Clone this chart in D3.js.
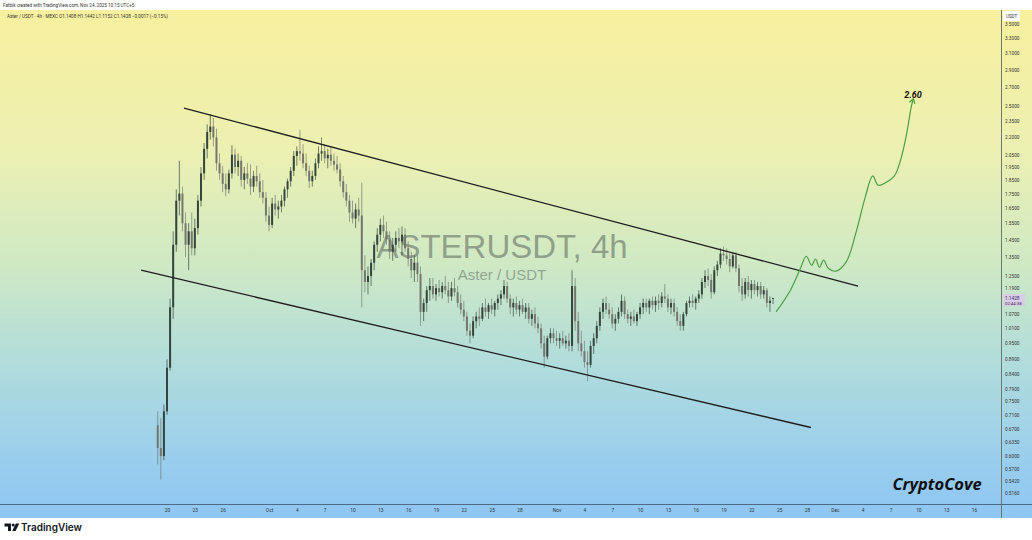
<!DOCTYPE html>
<html><head><meta charset="utf-8">
<script src="https://cdn.jsdelivr.net/npm/d3@7"></script>
<style>html,body{margin:0;padding:0;background:#fff;overflow:hidden}svg{display:block;font-family:Roboto,"Liberation Sans",sans-serif}</style>
</head><body><svg id="c" width="1032" height="540"></svg>
<script>
// ---- data (8h candles) ----
const candleStart = "2025-09-19T00:00:00Z";
const candleHours = 8;
const opens = [
0.68,0.62,0.60,0.72,0.86,1.10,1.42,1.70,1.75,1.55,
1.42,1.50,1.40,1.52,1.70,1.90,2.10,2.25,2.30,2.20,
1.98,1.90,1.82,1.78,1.90,2.05,1.95,2.00,1.85,1.90,
1.86,1.80,1.88,1.84,1.76,1.72,1.60,1.54,1.68,1.64,
1.66,1.70,1.78,1.84,1.92,2.04,2.08,2.06,1.98,1.92,
1.84,1.88,1.98,2.06,2.08,2.02,2.05,2.00,1.97,1.93,
1.84,1.76,1.70,1.62,1.58,1.64,1.60,1.28,1.22,1.25,
1.32,1.42,1.48,1.54,1.50,1.45,1.38,1.42,1.46,1.44,
1.48,1.40,1.34,1.28,1.32,1.26,1.08,1.12,1.18,1.20,
1.16,1.19,1.17,1.20,1.18,1.15,1.19,1.17,1.12,1.09,
1.06,1.00,0.98,1.04,1.06,1.05,1.10,1.08,1.11,1.09,
1.12,1.14,1.16,1.20,1.14,1.10,1.12,1.09,1.11,1.08,
1.10,1.05,1.07,1.03,1.01,0.95,0.90,0.97,0.99,0.97,
0.96,0.97,0.95,0.96,0.94,1.20,1.04,0.95,0.92,0.88,
0.87,0.94,0.97,1.02,1.08,1.12,1.09,1.07,1.03,1.05,
1.08,1.13,1.07,1.05,1.06,1.04,1.07,1.10,1.12,1.10,
1.13,1.11,1.13,1.12,1.15,1.14,1.10,1.12,1.08,1.04,
1.02,1.07,1.12,1.13,1.12,1.14,1.16,1.22,1.25,1.23,
1.17,1.28,1.31,1.37,1.36,1.34,1.30,1.36,1.29,1.20,
1.16,1.22,1.18,1.21,1.18,1.20,1.16,1.18,1.12,1.1408];
const highs = [
0.72,0.70,0.74,0.89,1.14,1.50,1.78,2.00,1.80,1.62,
1.55,1.62,1.58,1.74,1.95,2.15,2.32,2.42,2.38,2.28,
2.06,1.96,1.90,1.93,2.13,2.10,2.06,2.04,1.95,1.98,
1.97,1.92,1.96,1.90,1.85,1.76,1.66,1.72,1.74,1.70,
1.74,1.80,1.86,1.95,2.08,2.12,2.27,2.14,2.06,1.96,
1.92,2.02,2.12,2.20,2.14,2.10,2.12,2.06,2.04,1.98,
1.88,1.82,1.74,1.70,1.68,1.72,1.83,1.36,1.30,1.34,
1.44,1.52,1.58,1.60,1.56,1.50,1.46,1.50,1.52,1.53,
1.52,1.44,1.38,1.36,1.36,1.30,1.14,1.20,1.24,1.24,
1.21,1.23,1.22,1.25,1.22,1.22,1.24,1.20,1.16,1.13,
1.08,1.03,1.06,1.08,1.10,1.12,1.14,1.12,1.14,1.13,
1.16,1.18,1.23,1.22,1.16,1.14,1.15,1.13,1.14,1.12,
1.12,1.09,1.10,1.06,1.03,0.98,0.98,1.01,1.01,1.00,
0.99,1.00,0.98,0.99,1.28,1.24,1.08,1.00,0.96,0.92,
0.96,0.99,1.04,1.10,1.14,1.15,1.12,1.10,1.07,1.10,
1.16,1.15,1.09,1.08,1.09,1.08,1.12,1.14,1.14,1.14,
1.15,1.15,1.16,1.17,1.21,1.16,1.14,1.14,1.10,1.07,
1.08,1.13,1.15,1.16,1.15,1.18,1.24,1.28,1.29,1.26,
1.30,1.33,1.40,1.41,1.40,1.37,1.38,1.38,1.31,1.24,
1.24,1.25,1.23,1.23,1.22,1.22,1.20,1.19,1.15,1.1442];
const lows = [
0.58,0.545,0.59,0.71,0.85,1.05,1.38,1.60,1.50,1.35,
1.28,1.36,1.36,1.48,1.66,1.85,2.02,2.18,2.12,1.92,
1.85,1.76,1.73,1.75,1.86,1.90,1.88,1.80,1.78,1.82,
1.74,1.76,1.80,1.72,1.68,1.56,1.50,1.52,1.60,1.58,
1.62,1.66,1.72,1.80,1.88,1.96,2.00,1.94,1.88,1.79,
1.80,1.85,1.94,2.00,1.98,1.94,1.96,1.92,1.90,1.80,
1.72,1.66,1.56,1.55,1.52,1.56,1.10,1.17,1.16,1.20,
1.28,1.38,1.44,1.46,1.42,1.34,1.33,1.38,1.40,1.36,
1.38,1.30,1.24,1.22,1.22,1.02,1.04,1.08,1.13,1.14,
1.13,1.15,1.14,1.16,1.12,1.13,1.15,1.10,1.07,1.04,
0.98,0.95,0.97,1.01,1.02,1.04,1.06,1.05,1.07,1.06,
1.09,1.11,1.14,1.12,1.07,1.06,1.07,1.06,1.07,1.05,
1.03,1.02,1.01,0.99,0.93,0.86,0.89,0.95,0.95,0.94,
0.93,0.94,0.93,0.92,0.92,1.00,0.92,0.90,0.86,0.815,
0.86,0.91,0.95,1.00,1.05,1.07,1.05,1.01,1.00,1.03,
1.06,1.05,1.03,1.02,1.03,1.02,1.05,1.07,1.08,1.07,
1.09,1.08,1.09,1.10,1.12,1.08,1.07,1.06,1.02,1.00,
1.00,1.06,1.10,1.10,1.09,1.12,1.14,1.19,1.20,1.14,
1.16,1.25,1.29,1.33,1.31,1.27,1.29,1.27,1.17,1.13,
1.14,1.15,1.14,1.16,1.15,1.14,1.14,1.10,1.08,1.1152];
const closes = [
0.62,0.60,0.72,0.86,1.10,1.42,1.70,1.75,1.55,1.42,
1.50,1.40,1.52,1.70,1.90,2.10,2.25,2.30,2.20,1.98,
1.90,1.82,1.78,1.90,2.05,1.95,2.00,1.85,1.90,1.86,
1.80,1.88,1.84,1.76,1.72,1.60,1.54,1.68,1.64,1.66,
1.70,1.78,1.84,1.92,2.04,2.08,2.06,1.98,1.92,1.84,
1.88,1.98,2.06,2.08,2.02,2.05,2.00,1.97,1.93,1.84,
1.76,1.70,1.62,1.58,1.64,1.60,1.28,1.22,1.25,1.32,
1.42,1.48,1.54,1.50,1.45,1.38,1.42,1.46,1.44,1.48,
1.40,1.34,1.28,1.32,1.26,1.08,1.12,1.18,1.20,1.16,
1.19,1.17,1.20,1.18,1.15,1.19,1.17,1.12,1.09,1.06,
1.00,0.98,1.04,1.06,1.05,1.10,1.08,1.11,1.09,1.12,
1.14,1.16,1.20,1.14,1.10,1.12,1.09,1.11,1.08,1.10,
1.05,1.07,1.03,1.01,0.95,0.90,0.97,0.99,0.97,0.96,
0.97,0.95,0.96,0.94,1.20,1.04,0.95,0.92,0.88,0.87,
0.94,0.97,1.02,1.08,1.12,1.09,1.07,1.03,1.05,1.08,
1.13,1.07,1.05,1.06,1.04,1.07,1.10,1.12,1.10,1.13,
1.11,1.13,1.12,1.15,1.14,1.10,1.12,1.08,1.04,1.02,
1.07,1.12,1.13,1.12,1.14,1.16,1.22,1.25,1.23,1.17,
1.28,1.31,1.37,1.36,1.34,1.30,1.36,1.29,1.20,1.16,
1.22,1.18,1.21,1.18,1.20,1.16,1.18,1.12,1.13,1.1428];

const priceTicks = [3.5,3.3,3.1,2.9,2.7,2.5,2.35,2.2,2.05,1.95,1.85,1.75,1.65,1.55,1.45,1.35,1.25,1.19,1.07,1.01,0.95,0.89,0.84,0.79,0.75,0.71,0.67,0.635,0.60,0.57,0.542,0.516];
const timeTicks = ["2025-09-20","2025-09-23","2025-09-26","2025-10-01","2025-10-04","2025-10-07","2025-10-10","2025-10-13","2025-10-16","2025-10-19","2025-10-22","2025-10-25","2025-10-28","2025-11-01","2025-11-04","2025-11-07","2025-11-10","2025-11-13","2025-11-16","2025-11-19","2025-11-22","2025-11-25","2025-11-28","2025-12-01","2025-12-04","2025-12-07","2025-12-10","2025-12-13","2025-12-16"];
const timeLabels = ["20","23","26","Oct","4","7","10","13","16","19","22","25","28","Nov","4","7","10","13","16","19","22","25","28","Dec","4","7","10","13","16"];

const upperLineTimes = ["2025-09-21T20:00:00Z","2025-12-03T12:00:00Z"];
const upperLinePrices = [2.48,1.20];
const lowerLineTimes = ["2025-09-17T05:00:00Z","2025-11-28T10:00:00Z"];
const lowerLinePrices = [1.28,0.674];

const projTimes = ["2025-11-24T16:00:00Z","2025-11-26T05:00:00Z","2025-11-27T07:00:00Z","2025-11-27T22:00:00Z","2025-11-28T12:00:00Z","2025-11-28T22:00:00Z","2025-11-29T08:00:00Z","2025-11-29T19:00:00Z","2025-11-30T07:00:00Z","2025-12-01T02:00:00Z","2025-12-02T05:00:00Z","2025-12-03T07:00:00Z","2025-12-04T06:00:00Z","2025-12-05T02:00:00Z","2025-12-05T16:00:00Z","2025-12-06T12:00:00Z","2025-12-07T10:00:00Z","2025-12-08T02:00:00Z","2025-12-08T17:00:00Z","2025-12-09T05:00:00Z","2025-12-09T10:00:00Z"];
const projPrices = [1.08,1.18,1.29,1.355,1.306,1.34,1.295,1.334,1.29,1.275,1.323,1.495,1.718,1.88,1.81,1.83,1.88,2.006,2.22,2.48,2.56];
const targetLabel = "2.60";
const lastPrice = 1.1428;

// ---- drawing ----
const svg = d3.select("#c");
const x = d3.scaleUtc().domain([new Date("2025-09-20T00:00:00Z"), new Date("2025-12-16T00:00:00Z")]).range([167, 974]);
const y = d3.scaleLog().domain([0.516, 3.3]).range([493, 38]);

const defs = svg.append("defs");
const g = defs.append("linearGradient").attr("id","bg").attr("gradientUnits","userSpaceOnUse")
  .attr("x1",0).attr("y1",10).attr("x2",0).attr("y2",518);
[[0,"#f8f09e"],[0.28,"#ecf0b2"],[0.5,"#cfe9c4"],[0.7,"#b0dcdc"],[0.87,"#9ccfec"],[1,"#8ec6f4"]]
  .forEach(([o,c])=>g.append("stop").attr("offset",o).attr("stop-color",c));
const mk = defs.append("marker").attr("id","arr").attr("viewBox","0 0 10 10").attr("refX",5).attr("refY",5)
  .attr("markerWidth",6).attr("markerHeight",6).attr("orient","auto");
mk.append("path").attr("d","M1,1 L7,5 L1,9").attr("fill","none").attr("stroke","#3f9a3a").attr("stroke-width",1.6);

svg.append("rect").attr("x",0).attr("y",0).attr("width",1032).attr("height",540).attr("fill","#fff");
svg.append("rect").attr("x",0).attr("y",10).attr("width",1032).attr("height",508).attr("fill","url(#bg)");

// header
svg.append("text").attr("x",3).attr("y",6.5).attr("font-size",4.6).attr("fill","#333")
  .text("Fatbik created with TradingView.com, Nov 24, 2025 10:15 UTC+5");
svg.append("text").attr("x",7).attr("y",17.5).attr("font-size",4.6).attr("fill","#333")
  .text("Aster / USDT · 4h · MEXC   O1.1408  H1.1442  L1.1152  C1.1428  −0.0017 (−0.15%)");

// watermark
svg.append("text").attr("x",502).attr("y",258).attr("text-anchor","middle").attr("font-size",33)
  .attr("font-family","'Liberation Sans',Arial,sans-serif").attr("fill","rgba(85,95,90,0.55)").text("ASTERUSDT, 4h");
svg.append("text").attr("x",502).attr("y",280).attr("text-anchor","middle").attr("font-size",15)
  .attr("font-family","'Liberation Sans',Arial,sans-serif").attr("fill","rgba(85,95,90,0.5)").text("Aster / USDT");

// candles
const t0 = new Date(candleStart).getTime();
const candles = closes.map((c,i)=>({t:new Date(t0 + i*candleHours*3600e3), o:opens[i], h:highs[i], l:lows[i], c}));
const upCol = "#34463c", dnCol = "#75776f";
const cg = svg.append("g");
cg.selectAll("line").data(candles).join("line")
  .attr("x1",d=>x(d.t)).attr("x2",d=>x(d.t))
  .attr("y1",d=>y(d.h)).attr("y2",d=>y(d.l))
  .attr("stroke",d=>d.c>=d.o?upCol:dnCol).attr("stroke-width",0.8).attr("opacity",0.85);
cg.selectAll("rect").data(candles).join("rect")
  .attr("x",d=>x(d.t)-1).attr("width",2)
  .attr("y",d=>y(Math.max(d.o,d.c)))
  .attr("height",d=>Math.max(0.8, Math.abs(y(d.o)-y(d.c))))
  .attr("fill",d=>d.c>=d.o?upCol:dnCol);

// trend lines
const tl = d3.line().x(d=>x(new Date(d[0]))).y(d=>y(d[1]));
svg.append("path").attr("d",tl(upperLineTimes.map((t,i)=>[t,upperLinePrices[i]])))
  .attr("stroke","#1e1e1e").attr("stroke-width",1.3).attr("fill","none");
svg.append("path").attr("d",tl(lowerLineTimes.map((t,i)=>[t,lowerLinePrices[i]])))
  .attr("stroke","#1e1e1e").attr("stroke-width",1.3).attr("fill","none");

// projection
const pl = d3.line().x(d=>x(new Date(d[0]))).y(d=>y(d[1])).curve(d3.curveCatmullRom.alpha(0.5));
svg.append("path").attr("d",pl(projTimes.map((t,i)=>[t,projPrices[i]])))
  .attr("stroke","#4aa043").attr("stroke-width",1.2).attr("fill","none").attr("marker-end","url(#arr)");
svg.append("text").attr("x",x(new Date(projTimes[projTimes.length-1]))).attr("y",y(2.60)+2)
  .attr("text-anchor","middle").attr("font-size",9).attr("font-weight","bold").attr("font-style","italic")
  .attr("fill","#111").text(targetLabel);

// branding
svg.append("text").attr("x",937).attr("y",490).attr("text-anchor","middle").attr("font-size",16.5)
  .attr("font-weight","bold").attr("font-style","italic").attr("font-family","'Open Sans',sans-serif")
  .attr("fill","#111").text("CryptoCove");

// right axis
svg.append("line").attr("x1",1001.5).attr("x2",1001.5).attr("y1",10).attr("y2",518).attr("stroke","#6b7a70").attr("stroke-width",1);
const ya = svg.append("g").attr("transform","translate(1003,0)")
  .call(d3.axisRight(y).tickValues(priceTicks).tickFormat(d3.format(".4f")).tickSize(0).tickPadding(2));
ya.select(".domain").remove();
ya.selectAll("text").attr("font-size",4.7).attr("fill","#333").attr("font-family","Roboto,sans-serif");
svg.append("rect").attr("x",1003).attr("y",11).attr("width",17).attr("height",10).attr("fill","#fff");
svg.append("text").attr("x",1006).attr("y",17.5).attr("font-size",4.5).attr("fill","#333").text("USDT");
const ly = y(lastPrice);
svg.append("rect").attr("x",1003).attr("y",ly-4).attr("width",22).attr("height",12).attr("fill","#d8cce6");
svg.append("text").attr("x",1005).attr("y",ly+1.5).attr("font-size",4.7).attr("fill","#3a2a55").text(d3.format(".4f")(lastPrice));
svg.append("text").attr("x",1005).attr("y",ly+6.5).attr("font-size",4.3).attr("fill","#3a2a55").text("02:44:38");

// bottom axis
svg.append("line").attr("x1",0).attr("x2",1032).attr("y1",504.5).attr("y2",504.5).attr("stroke","#4d6a86").attr("stroke-width",1);
const xa = svg.append("g").attr("transform","translate(0,505)")
  .call(d3.axisBottom(x).tickValues(timeTicks.map(s=>new Date(s+"T00:00:00Z"))).tickFormat((d,i)=>timeLabels[i]).tickSize(0).tickPadding(4));
xa.select(".domain").remove();
xa.selectAll("text").attr("font-size",4.8).attr("fill","#333").attr("font-family","Roboto,sans-serif");

// TradingView logo
const lg = svg.append("g").attr("fill","#131722");
lg.append("path").attr("d","M4.5,523.5 H11 V531 H8 V526.5 H4.5 Z");
lg.append("circle").attr("cx",13.2).attr("cy",525).attr("r",1.5);
lg.append("path").attr("d","M15.8,523.5 H19.3 L15.6,531 H12.2 Z");
svg.append("text").attr("x",21).attr("y",531).attr("font-size",10).attr("font-weight",600)
  .attr("font-family","Inter,Roboto,sans-serif").attr("fill","#131722").text("TradingView");
</script></body></html>
